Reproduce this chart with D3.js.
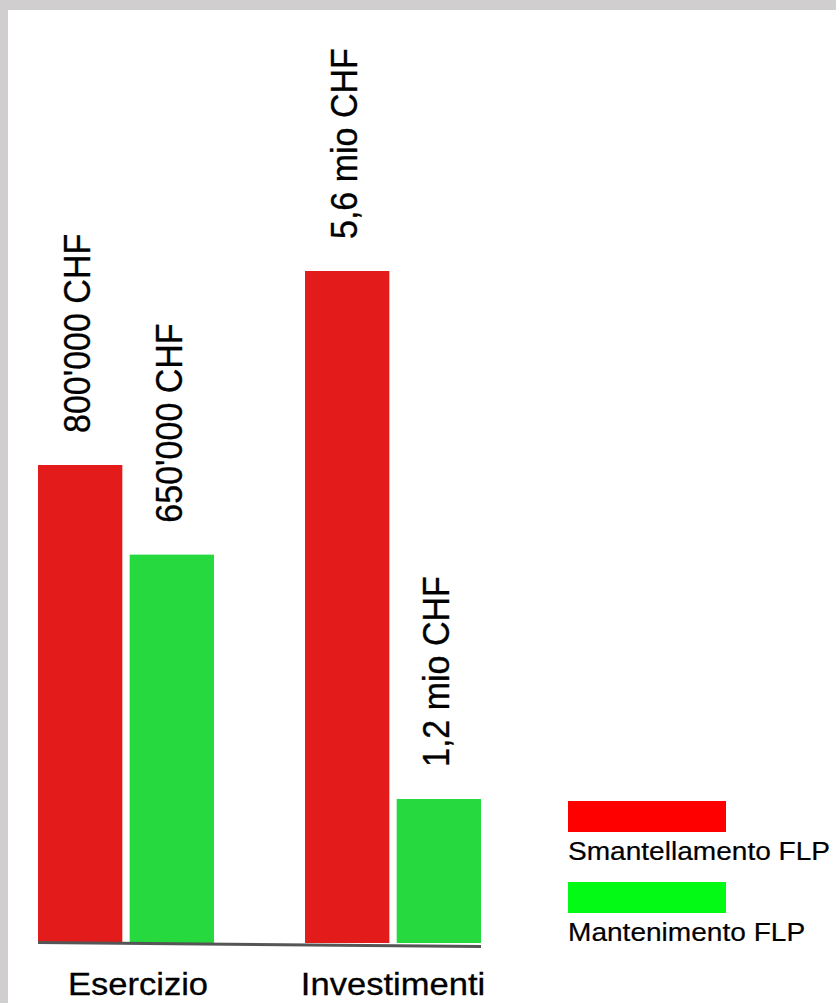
<!DOCTYPE html>
<html>
<head>
<meta charset="utf-8">
<script src="https://cdn.jsdelivr.net/npm/d3@7"></script>
<style>
  html, body { margin: 0; padding: 0; background: #fff; }
  svg { display: block; font-family: "Liberation Sans", Arial, Helvetica, sans-serif; }
</style>
</head>
<body>
<svg id="chart" width="836" height="1003"></svg>
<script>
// Cost comparison: dismantling vs keeping the FLP
const categories = ["Esercizio", "Investimenti"];
const seriesNames = ["Smantellamento FLP", "Mantenimento FLP"];
const esercizioValues = [800000, 650000];       // CHF per year
const investimentiValues = [5600000, 1200000];  // CHF
const groupValues = [esercizioValues, investimentiValues];

const barColors = ["#e31b1b", "#26d93f"];
const legendColors = ["#ff0000", "#02fa14"];

const W = 836, H = 1003;
const baseY = 943;
// each group has its own vertical scale (the tallest bar reaches this height)
const groupTopY = [465, 271];

const locale = d3.formatLocale({ decimal: ",", thousands: "'", grouping: [3], currency: ["", ""] });
const fmtInt = locale.format(",.0f");
const fmtMio = locale.format(".1f");
const labelFormats = [
  v => fmtInt(v) + " CHF",
  v => fmtMio(v / 1e6) + " mio CHF"
];

const svg = d3.select("#chart");

// frame
svg.append("rect").attr("x", 0).attr("y", 0).attr("width", W).attr("height", H).attr("fill", "#d0cecf");
svg.append("rect").attr("x", 8).attr("y", 10).attr("width", W - 8).attr("height", H - 10).attr("fill", "#ffffff");

const x0 = d3.scaleBand().domain(categories).range([38, 481]).paddingInner(0.341).paddingOuter(0);
const x1 = d3.scaleBand().domain(seriesNames).range([0, x0.bandwidth()]).paddingInner(0.08).paddingOuter(0);

const yScales = categories.map((c, i) =>
  d3.scaleLinear().domain([0, d3.max(groupValues[i])]).range([baseY, groupTopY[i]])
);

const rows = [];
categories.forEach((c, i) => {
  seriesNames.forEach((s, j) => {
    rows.push({ cat: c, ci: i, series: s, si: j, value: groupValues[i][j] });
  });
});

const g = svg.append("g");

g.selectAll("rect.bar")
  .data(rows)
  .join("rect")
  .attr("class", "bar")
  .attr("x", d => x0(d.cat) + x1(d.series))
  .attr("y", d => yScales[d.ci](d.value))
  .attr("width", x1.bandwidth())
  .attr("height", d => baseY - yScales[d.ci](d.value))
  .attr("fill", d => barColors[d.si]);

// value labels, vertical, above each bar
const labelGap = 32;
g.selectAll("text.value")
  .data(rows)
  .join("text")
  .attr("class", "value")
  .attr("transform", d => {
    const cx = x0(d.cat) + x1(d.series) + x1.bandwidth() / 2 + 10;
    const cy = yScales[d.ci](d.value) - labelGap;
    return `translate(${cx},${cy}) rotate(-90) scale(1,1.1)`;
  })
  .attr("text-anchor", "start")
  .attr("font-size", 34)
  .attr("fill", "#000")
  .attr("stroke", "#000")
  .attr("stroke-width", 0.3)
  .text(d => labelFormats[d.ci](d.value));

// baseline
const [xa, xb] = x0.range();
g.append("path")
  .attr("d", d3.line()([[xa, baseY - 0.5], [xb, baseY + 3.5]]))
  .attr("stroke", "#555")
  .attr("stroke-width", 3)
  .attr("fill", "none");

// category labels
g.selectAll("text.cat")
  .data(categories)
  .join("text")
  .attr("class", "cat")
  .attr("transform", (d, i) => `translate(${x0(d) + x0.bandwidth() / 2 + (i === 0 ? 12 : 0)},995) scale(1.08,1)`)
  .attr("text-anchor", "middle")
  .attr("font-size", 32)
  .attr("fill", "#000")
  .attr("stroke", "#000")
  .attr("stroke-width", 0.3)
  .text(d => d);

// legend
const legend = svg.append("g").attr("transform", "translate(568,801)");
const items = legend.selectAll("g.item")
  .data(seriesNames)
  .join("g")
  .attr("class", "item")
  .attr("transform", (d, i) => `translate(0,${i * 81})`);
items.append("rect")
  .attr("width", 158).attr("height", 31)
  .attr("fill", (d, i) => legendColors[i]);
items.append("text")
  .attr("x", 0).attr("y", 59)
  .attr("font-size", 26)
  .attr("transform", "scale(1.08,1)")
  .attr("fill", "#000")
  .attr("stroke", "#000")
  .attr("stroke-width", 0.2)
  .text(d => d);
</script>
</body>
</html>
